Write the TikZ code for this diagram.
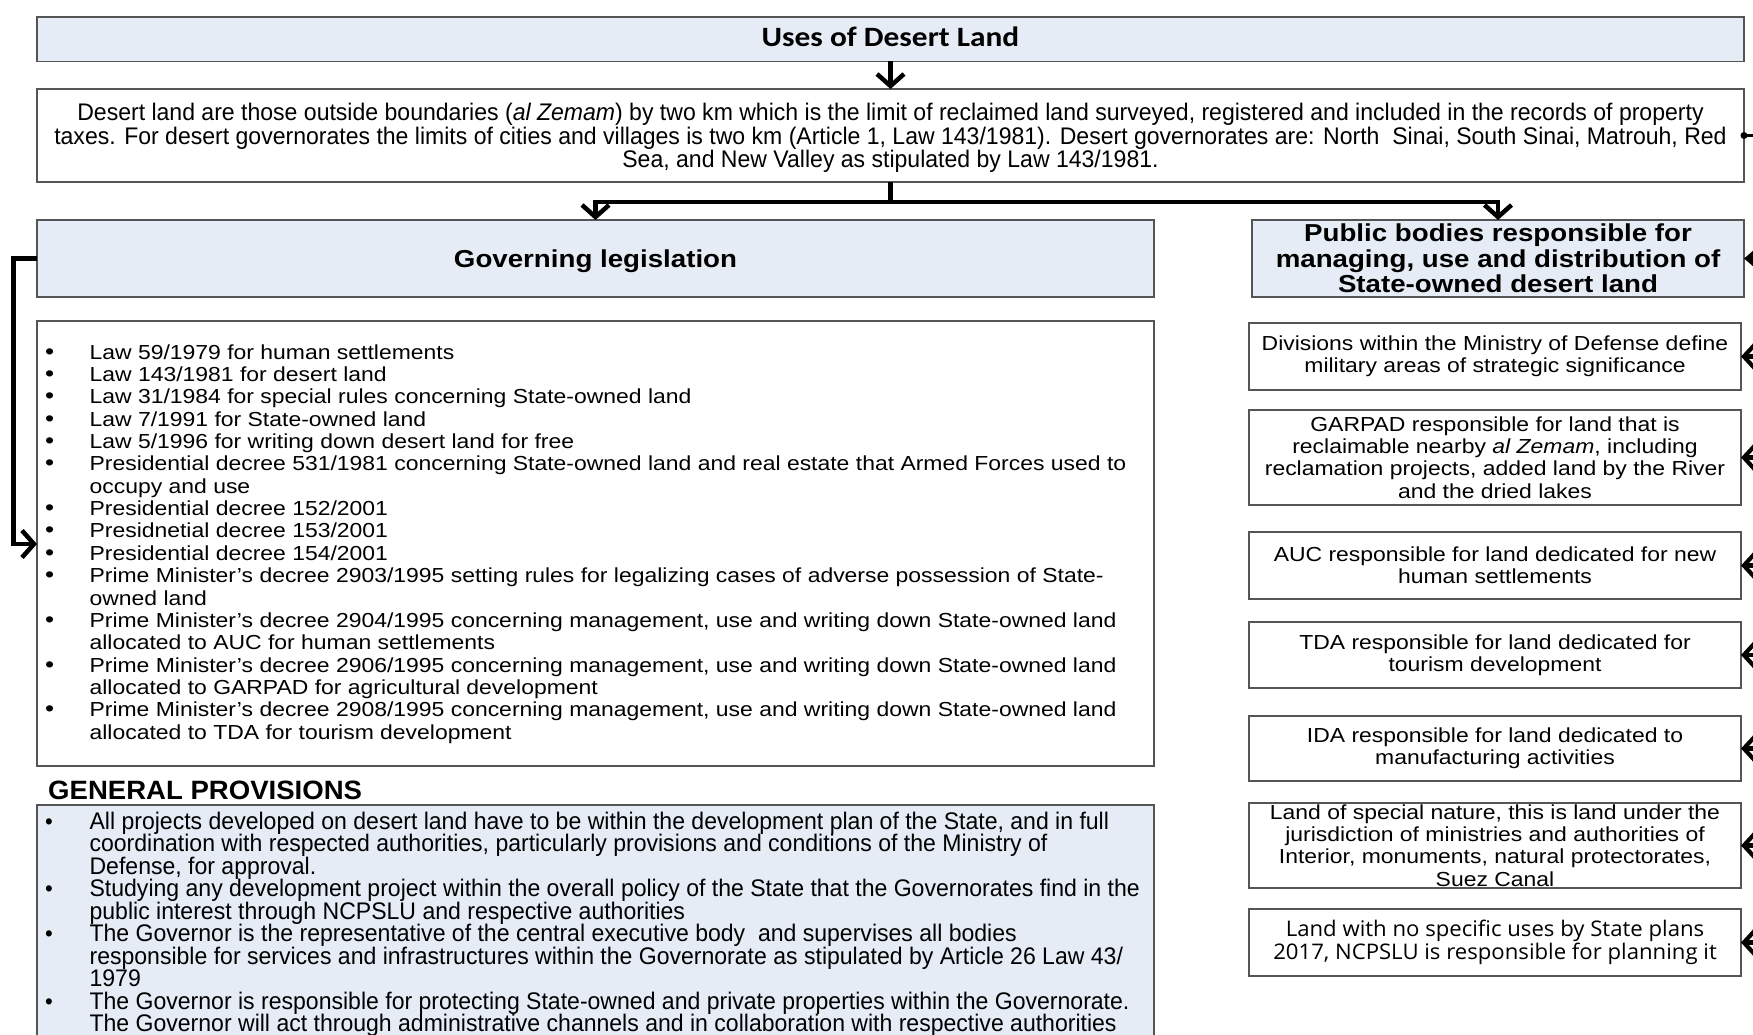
\documentclass[tikz,border=0pt]{standalone}
\usepackage{fontspec}
\setmainfont{Liberation Sans}
\newfontfamily\bodyf{Liberation Sans}[FakeStretch=1.13]
\newfontfamily\descf{Liberation Sans}[FakeStretch=0.96]
\newfontfamily\provheadf{Liberation Sans}[FakeStretch=1.04]
\newfontfamily\titlef{Carlito}[FakeStretch=1.12]
\newfontfamily\openf{Open Sans}[FakeStretch=1.03]
\usetikzlibrary{arrows.meta}
\definecolor{boxblue}{RGB}{229,236,246}
\definecolor{edgegray}{RGB}{85,85,85}
\newcommand{\rowstrut}{\setbox\strutbox\hbox{\vrule height 17.2pt depth 5.17pt width 0pt}\renewcommand{\arraystretch}{1}}
\newcommand{\bul}{{\fontsize{23}{22}\selectfont\textbullet}}
\tikzset{
  frame/.style={draw=edgegray, line width=1.2pt, inner sep=0pt, outer sep=0pt},
  bluebox/.style={frame, fill=boxblue},
  conn/.style={line width=4.5pt, line join=miter, -{Straight Barb[length=12pt,width=27pt]}},
  sideconn/.style={line width=4.2pt, -{Straight Barb[length=11pt,width=24pt]}},
  fillconn/.style={line width=4pt, -{Triangle[length=18pt,width=30pt]}},
  bodytext/.style={font=\bodyf\fontsize{20.3}{22.37}\selectfont, align=center},
  headtext/.style={font=\bodyf\bfseries\fontsize{24.5}{25.7}\selectfont, align=center},
  desctext/.style={font=\descf\fontsize{24}{22.37}\selectfont, align=center},
  rightbox/.style={frame, minimum width=492pt, bodytext}
}
\begin{document}
\begin{tikzpicture}[x=1pt,y=-1pt]
\useasboundingbox (0,0) rectangle (1753,1035);
\fill[white] (0,0) rectangle (1753,1035);

% title
\node[bluebox, minimum width=1707pt, minimum height=44.5pt] (title) at (890.5,39.25) {};
\node[inner sep=0pt, font=\titlef\bfseries\fontsize{28}{30}\selectfont] (titletext) at (890.5,37) {Uses of Desert Land};

% description
\node[frame, minimum width=1707pt, minimum height=93pt] (desc) at (890.5,135.5) {};
\node[desctext, inner sep=0pt] (desctxt) at (890.5,138)
{Desert land are those outside boundaries (\textit{al Zemam}) by two km which is the limit of reclaimed land surveyed, registered and included in the records of property\\
taxes. For desert governorates the limits of cities and villages is two km (Article 1, Law 143/1981). Desert governorates are: North\ \ Sinai, South Sinai, Matrouh, Red\\
Sea, and New Valley as stipulated by Law 143/1981.};

% headings
\node[bluebox, minimum width=1117pt, minimum height=77pt] (gov) at (595.5,258.5) {};
\node[headtext, inner sep=0pt] (govtext) at (595.5,261) {Governing legislation};
\node[bluebox, minimum width=492pt, minimum height=77pt, headtext] (pub) at (1498,258.5)
{Public bodies responsible for\\managing, use and distribution of\\State-owned desert land};

% list box
\node[frame, minimum width=1117pt, minimum height=445pt] (listbox) at (595.5,543.5) {};
\node[anchor=base west, inner sep=0pt, font=\bodyf\fontsize{20.3}{22.37}\selectfont] (listtext) at (45,359)
{\rowstrut\begin{tabular}[t]{@{}p{44.4pt}@{}l@{}}
\bul & Law 59/1979 for human settlements\\
\bul & Law 143/1981 for desert land\\
\bul & Law 31/1984 for special rules concerning State-owned land\\
\bul & Law 7/1991 for State-owned land\\
\bul & Law 5/1996 for writing down desert land for free\\
\bul & Presidential decree 531/1981 concerning State-owned land and real estate that Armed Forces used to\\
 & occupy and use\\
\bul & Presidential decree 152/2001\\
\bul & Presidnetial decree 153/2001\\
\bul & Presidential decree 154/2001\\
\bul & Prime Minister’s decree 2903/1995 setting rules for legalizing cases of adverse possession of State-\\
 & owned land\\
\bul & Prime Minister’s decree 2904/1995 concerning management, use and writing down State-owned land\\
 & allocated to AUC for human settlements\\
\bul & Prime Minister’s decree 2906/1995 concerning management, use and writing down State-owned land\\
 & allocated to GARPAD for agricultural development\\
\bul & Prime Minister’s decree 2908/1995 concerning management, use and writing down State-owned land\\
 & allocated to TDA for tourism development
\end{tabular}};

% general provisions
\node[anchor=west, inner sep=0pt, font=\provheadf\bfseries\fontsize{26.5}{27}\selectfont] (genhead) at (48,790) {GENERAL PROVISIONS};
\node[bluebox, minimum width=1117pt, minimum height=240pt] (provbox) at (595.5,925) {};
\node[anchor=base west, inner sep=0pt, font=\descf\fontsize{24}{22.37}\selectfont] (provtext) at (45,829)
{\rowstrut\begin{tabular}[t]{@{}p{44.4pt}@{}l@{}}
\bul & All projects developed on desert land have to be within the development plan of the State, and in full\\
 & coordination with respected authorities, particularly provisions and conditions of the Ministry of\\
 & Defense, for approval.\\
\bul & Studying any development project within the overall policy of the State that the Governorates find in the\\
 & public interest through NCPSLU and respective authorities\\
\bul & The Governor is the representative of the central executive body\ \ and supervises all bodies\\
 & responsible for services and infrastructures within the Governorate as stipulated by Article 26 Law 43/\\
 & 1979\\
\bul & The Governor is responsible for protecting State-owned and private properties within the Governorate.\\
 & The Governor will act through administrative channels and in collaboration with respective authorities
\end{tabular}};

% right boxes
\node[rightbox, minimum height=67pt] (r1) at (1495,356.5)
{Divisions within the Ministry of Defense define\\military areas of strategic significance};
\node[rightbox, minimum height=95pt] (r2) at (1495,457.5)
{GARPAD responsible for land that is\\reclaimable nearby \textit{al Zemam}, including\\reclamation projects, added land by the River\\and the dried lakes};
\node[rightbox, minimum height=67pt] (r3) at (1495,565.5)
{AUC responsible for land dedicated for new\\human settlements};
\node[rightbox, minimum height=66pt] (r4) at (1495,655)
{TDA responsible for land dedicated for\\tourism development};
\node[rightbox, minimum height=65pt] (r5) at (1495,748.5)
{IDA responsible for land dedicated to\\manufacturing activities};
\node[rightbox, minimum height=85pt] (r6) at (1495,845.5)
{Land of special nature, this is land under the\\jurisdiction of ministries and authorities of\\Interior, monuments, natural protectorates,\\Suez Canal};
\node[rightbox, minimum height=67pt, font=\openf\fontsize{21.5}{22.37}\selectfont] (r7) at (1495,942.5)
{Land with no specific uses by State plans\\2017, NCPSLU is responsible for planning it};

% connectors
\draw[conn] (title.south) -- (desc.north);
\coordinate (split) at (890.5,202);
\draw[line width=4.5pt] (desc.south) -- (split);
\draw[conn] (split) -| (gov.north);
\draw[conn] (split) -| (pub.north);

\coordinate (leftin) at (37,544);
\draw[conn] (gov.west) -- ++(-23.6,0) |- (leftin);

% right side (feeding line lies outside the picture)
\coordinate (descout) at (1770,135.5);
\fill (desc.east) circle (3.5pt);
\draw[line width=3pt] (desc.east) -- (descout);
\coordinate (pubin) at (1780,258.5);
\draw[fillconn] (pubin) -- (pub.east);
\foreach \r in {r1,r2,r3,r4,r5,r6,r7}{
  \coordinate (\r in) at ([xshift=30pt]\r.east);
  \draw[sideconn] (\r in) -- (\r.east);
}
\end{tikzpicture}
\end{document}
